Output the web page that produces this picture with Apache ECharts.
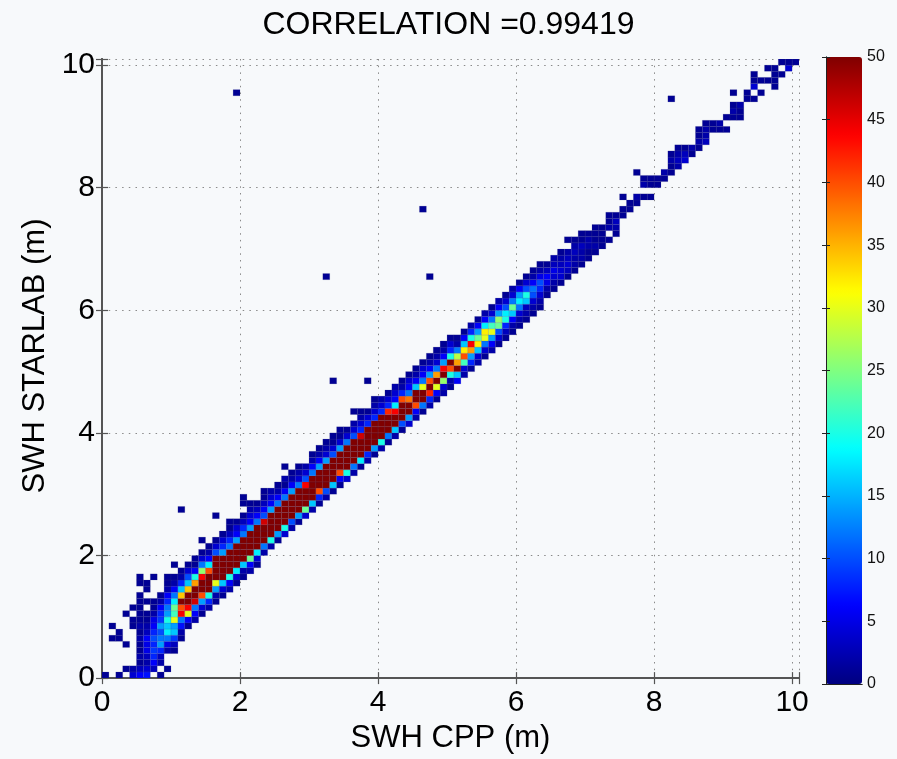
<!DOCTYPE html>
<html><head><meta charset="utf-8">
<script src="https://cdn.jsdelivr.net/npm/echarts@6/dist/echarts.min.js"></script>
<style>html,body{margin:0;padding:0;background:#f7f9fb;}#c{width:897px;height:759px;}</style>
</head><body><div id="c"></div>
<script>
// Bin size of the 2-D histogram (m)
const BIN = 0.1;
const titleText = 'CORRELATION =0.99419';
const xName = 'SWH CPP (m)';
const yName = 'SWH STARLAB (m)';
const axisTicks = [0, 2, 4, 6, 8, 10];
const colorbarTicks = [0, 5, 10, 15, 20, 25, 30, 35, 40, 45, 50];

// Each entry: [column index (x bin), first row index (y bin), counts upward from that row...]
const bandLow = [
 [0,0,1],
 [1,6,1,0,1],
 [2,0,1],[2,6,1,1],
 [3,1,1],[3,5,1],[3,10,1],
 [4,0,4,2],[4,8,1,1,0,1],
 [5,0,6,3,1,2,1,1,2,1,2,1,1,1,1,1,0,1,1],
 [6,0,7,4,2,3,5,5,6,3,2,1,1,0,1,0,1,1],
 [7,1,3,6,8,9,8,10,8,6,5,2,1,1,0,0,0,1],
 [8,0,1,0,2,3,8,14,12,10,14,9,8,6,2,1],
 [9,1,1,0,0,2,5,12,18,16,20,14,12,8,6,2,1,1],
 [10,4,1,3,9,16,14,30,22,24,18,12,6,2,1,0,1],
 [11,6,1,2,7,12,44,40,60,34,16,8,2,1],
 [12,8,1,6,30,44,60,55,34,16,10,4,1],
 [13,9,2,6,12,46,60,70,36,20,6,1,1],
 [14,10,1,4,14,40,70,80,44,26,12,4,1],[14,22,1],
 [15,11,2,8,20,56,70,80,40,18,6,2,1],
 [16,12,1,2,14,30,80,90,60,52,10,4,1],[16,26,1],
 [17,13,1,4,16,60,80,90,55,14,8,4,1],
 [18,14,2,6,20,70,90,70,56,12,8,3,1,1],
 [19,15,1,4,18,60,90,100,52,14,6,4,1],
 [20,16,1,2,16,60,90,100,55,12,8,3,1],[20,28,1,1],
 [21,17,2,6,24,80,100,60,54,14,6,4,2,1],
 [22,18,1,4,18,60,90,80,52,12,6,3,1],
 [23,20,2,12,70,90,70,46,10,6,3,1],[23,30,1],
 [24,21,2,20,60,90,80,56,14,6,4,2]
];
const bandMid = [
 [25,22,1,14,60,90,70,54,12,6,2,1],
 [26,23,4,20,70,90,60,52,12,6,1,2],[26,34,1],
 [27,24,2,10,50,90,80,56,14,6,2,1],
 [28,25,1,14,60,90,70,55,12,4,2,1],
 [29,26,4,24,60,90,80,44,10,4,2],
 [30,27,2,16,70,90,60,56,12,6,2,1],
 [31,28,1,8,40,90,80,55,14,6,2,1],
 [32,29,2,10,60,90,70,52,14,4,2],[32,38,1],
 [33,30,1,16,60,90,70,56,10,4,1,1],
 [34,31,1,6,40,90,80,54,14,4,1],
 [35,32,4,20,60,90,60,52,12,4,1],
 [36,33,2,12,56,90,70,55,10,4,2],
 [37,34,1,18,60,90,60,46,8,4,2,1],
 [38,35,2,8,50,90,70,55,8,4,1],
 [39,36,1,14,60,90,60,52,8,4,2,1],
 [40,37,2,20,70,90,56,54,8,4,2],
 [41,38,1,12,60,80,60,42,8,4,1],
 [42,39,2,16,60,80,44,18,6,4,2],
 [43,40,1,10,50,70,56,40,8,2,1],
 [44,41,4,14,60,70,38,12,6,4,1],
 [45,42,2,6,40,60,52,16,6,2,1],
 [46,43,1,12,50,56,30,12,6,4,1],
 [47,44,2,8,42,55,40,14,6,2,1],
 [48,45,1,6,30,52,36,12,4,2,1],
 [49,46,2,4,26,50,44,14,6,2,1]
];
const bandHigh = [
 [50,47,1,2,20,40,50,20,8,4,1],
 [51,48,6,16,52,36,28,12,2,1],
 [52,49,2,4,22,40,32,16,6,1],
 [53,50,1,8,14,36,44,20,8,2],
 [54,51,2,4,16,32,24,14,6,1],
 [55,52,1,4,12,30,32,18,6,2],
 [56,53,2,6,14,30,22,12,4,1],
 [57,54,1,4,10,24,26,14,6,2],
 [58,55,1,3,8,20,18,10,4,1],
 [59,56,1,2,6,16,24,12,4,2],
 [60,57,1,2,4,12,18,14,6,1],
 [61,58,1,2,3,16,20,10,4,1],
 [62,59,1,2,4,10,12,6,2,1],
 [63,60,1,2,4,8,10,5,2,1],
 [64,62,1,2,5,6,3,1],
 [65,63,1,2,4,5,3,2],
 [66,64,1,4,4,3,2,1],
 [67,65,1,3,4,3,2],[67,71,1],
 [68,66,1,2,2,3,2,1],
 [69,67,1,2,2,3,1,1],
 [70,68,1,1,2,2,1],
 [71,69,1,2,1,1,1],
 [72,70,1,1,1,1],
 [73,71,1,0,2,1,1],
 [74,72,1,2,3,1]
];
const bandTop = [
 [75,75,1,1,0,1],
 [76,76,1,1],
 [77,77,1,2],
 [78,78,1,0,2,1],
 [79,78,1,0,1,1],
 [80,80,1,1],
 [81,81,1,2],
 [82,82,1,1,2,1],
 [83,83,2,3,2,1],
 [84,84,4,3,1],
 [85,85,1,2],
 [86,86,1,2,1,1],
 [87,87,3,2,2,1],
 [88,89,1,1],
 [89,89,1,2],
 [90,89,1,0,1],
 [91,91,1,2,1,0,1],
 [92,91,1,1,2],
 [93,94,1,1],
 [94,94,1,0,4,1,1],
 [95,95,1,0,1],
 [96,97,1,0,1],
 [97,96,1,1,1,1],
 [98,98,1,0,1],
 [99,99,4,1],
 [100,100,1]
];
// isolated cells: [column, row, count]
const outliers = [
 [11,27,1],[19,95,1],[32,65,1],[33,48,1],[34,40,1],[36,43,1],
 [38,48,1],[46,76,1],[47,65,1],[77,82,1],[82,94,1]
];

function buildCells() {
  const cells = [];
  [bandLow, bandMid, bandHigh, bandTop].forEach(arr => {
    arr.forEach(col => {
      const i = col[0], j0 = col[1];
      for (let k = 2; k < col.length; k++) {
        const v = col[k];
        if (v > 0) cells.push([+(i * BIN).toFixed(2), +((j0 + k - 2) * BIN).toFixed(2), v]);
      }
    });
  });
  outliers.forEach(o => cells.push([+(o[0] * BIN).toFixed(2), +(o[1] * BIN).toFixed(2), o[2]]));
  return cells;
}
const cells = buildCells();

const FONT = 'Liberation Sans, Arial, Helvetica, sans-serif';
const chart = echarts.init(document.getElementById('c'), null, {renderer: 'canvas'});
const evenFmt = v => (axisTicks.indexOf(Math.round(v * 1000) / 1000) >= 0 ? String(Math.round(v)) : '');
const dotted = {show: true, lineStyle: {color: '#8a8a8a', width: 1, type: [1.5, 5.2]}};
const frameLine = {show: true, lineStyle: {color: '#555', width: 2}};
const inTick = {show: true, inside: true, length: 6, lineStyle: {color: '#555', width: 1.2}};

chart.setOption({
  backgroundColor: '#f7f9fb',
  animation: false,
  title: {
    text: titleText, left: 'center', top: 4,
    textStyle: {fontFamily: FONT, fontSize: 32, fontWeight: 'normal', color: '#000'}
  },
  grid: [
    {left: 102, top: 59, width: 697, height: 624.3, containLabel: false},
    {left: 826, top: 57, width: 36, height: 627, containLabel: false}
  ],
  xAxis: [
    {gridIndex: 0, type: 'value', min: 0, max: 10.1, interval: 2, position: 'bottom',
     axisLine: frameLine, axisTick: inTick, splitLine: dotted,
     axisLabel: {fontFamily: FONT, fontSize: 30, color: '#000', margin: 10, formatter: evenFmt},
     name: xName, nameLocation: 'middle', nameGap: 41,
     nameTextStyle: {fontFamily: FONT, fontSize: 31, color: '#000'}},
    {gridIndex: 0, type: 'value', min: 0, max: 10.1, interval: 2, position: 'top',
     axisLine: frameLine, axisTick: inTick, splitLine: {show: false}, axisLabel: {show: false}},
    {gridIndex: 1, type: 'value', min: 0, max: 1, position: 'bottom', z: 10,
     axisLine: {show: true, lineStyle: {color: '#222', width: 1}}, axisTick: {show: false},
     axisLabel: {show: false}, splitLine: {show: false}},
    {gridIndex: 1, type: 'value', min: 0, max: 1, position: 'top', z: 10,
     axisLine: {show: true, lineStyle: {color: '#222', width: 1}}, axisTick: {show: false},
     axisLabel: {show: false}, splitLine: {show: false}}
  ],
  yAxis: [
    {gridIndex: 0, type: 'value', min: 0, max: 10.1, interval: 2, position: 'left',
     axisLine: frameLine, axisTick: inTick, splitLine: dotted,
     axisLabel: {fontFamily: FONT, fontSize: 30, color: '#000', margin: 7, formatter: evenFmt}},
    {gridIndex: 0, type: 'value', min: 0, max: 10.1, interval: 2, position: 'right',
     axisLine: frameLine, axisTick: inTick, splitLine: {show: false}, axisLabel: {show: false}},
    {gridIndex: 1, type: 'value', min: colorbarTicks[0], max: colorbarTicks[colorbarTicks.length - 1], interval: 5,
     position: 'right', z: 10,
     axisLine: {show: true, lineStyle: {color: '#222', width: 1}},
     axisTick: {show: true, inside: true, length: 4, lineStyle: {color: '#222'}},
     axisLabel: {fontFamily: FONT, fontSize: 16, color: '#111', margin: 5}, splitLine: {show: false}},
    {gridIndex: 1, type: 'value', min: 0, max: 50, interval: 5, position: 'left', z: 10,
     axisLine: {show: true, lineStyle: {color: '#222', width: 1}},
     axisTick: {show: true, inside: true, length: 4, lineStyle: {color: '#222'}},
     axisLabel: {show: false}, splitLine: {show: false}}
  ],
  visualMap: {
    type: 'continuous', min: 0, max: 50, dimension: 2, seriesIndex: 0,
    orient: 'vertical', left: 826, top: 57, itemWidth: 36, itemHeight: 627,
    padding: 0, calculable: false, realtime: false, hoverLink: false,
    inRange: {color: ['#000080', '#0000ff', '#0080ff', '#00ffff', '#80ff80', '#ffff00', '#ff8000', '#ff0000', '#800000']}
  },
  graphic: [{
    type: 'text', x: 35, y: 356, rotation: Math.PI / 2,
    style: {text: yName, fontFamily: FONT, fontSize: 31, fill: '#000', textAlign: 'center', textVerticalAlign: 'middle'}
  }],
  series: [{
    type: 'custom', xAxisIndex: 0, yAxisIndex: 0, clip: true, z: 3,
    data: cells,
    encode: {x: 0, y: 1},
    renderItem: function (params, api) {
      const x = api.value(0), y = api.value(1);
      const p0 = api.coord([x, y]);
      const p1 = api.coord([x + BIN, y + BIN]);
      return {
        type: 'rect',
        shape: {x: p0[0], y: p1[1], width: p1[0] - p0[0], height: p0[1] - p1[1]},
        style: {fill: api.visual('color'), stroke: 'rgba(60,60,120,0.25)', lineWidth: 0.6}
      };
    }
  }]
});
</script>
</body></html>
